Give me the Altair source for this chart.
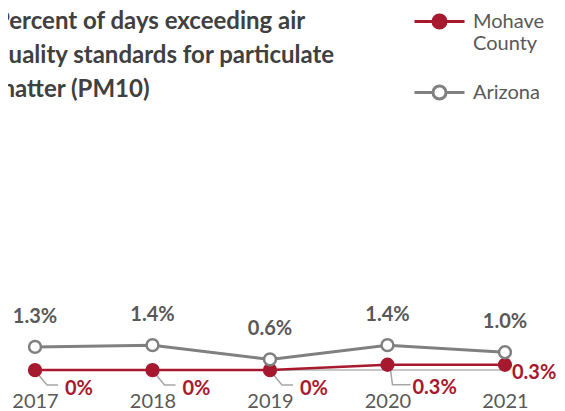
import altair as alt
import pandas as pd

years = [2017, 2018, 2019, 2020, 2021]
mohave = [0.0, 0.0, 0.0, 0.3, 0.3]
arizona = [1.3, 1.4, 0.6, 1.4, 1.0]
mohave_labels = ["0%", "0%", "0%", "0.3%", "0.3%"]
arizona_labels = ["1.3%", "1.4%", "0.6%", "1.4%", "1.0%"]
series = ["Mohave County", "Arizona"]
title_lines = ["Percent of days exceeding air",
               "quality standards  for particulate",
               "matter (PM10)"]

RED = "#A6192E"
GREY = "#808080"
TXT = "#595959"
LC = "#A6A6A6"
FONT = "Lato"

rows = []
for yr, v, lab in zip(years, mohave, mohave_labels):
    rows.append({"year": yr, "series": series[0], "value": v, "label": lab})
for yr, v, lab in zip(years, arizona, arizona_labels):
    rows.append({"year": yr, "series": series[1], "value": v, "label": lab})
df = pd.DataFrame(rows)

x_scale = alt.Scale(domain=[2016.770, 2021.443], nice=False, zero=False)
y_scale = alt.Scale(domain=[-2.30, 20.34], nice=False, zero=False)
x_enc = alt.X("year:Q", scale=x_scale,
              axis=alt.Axis(values=years, format="d", title=None, domain=False,
                            ticks=False, grid=False, labelFont=FONT,
                            labelFontSize=20, labelColor=TXT, labelPadding=2,
                            offset=-22, labelFlush=False))
y_enc = alt.Y("value:Q", scale=y_scale, axis=None)

color_scale = alt.Scale(domain=series, range=[RED, GREY])
fill_scale = alt.Scale(domain=series, range=[RED, "#FFFFFF"])

base = alt.Chart(df)
moh = base.transform_filter(alt.datum.series == series[0])
ari = base.transform_filter(alt.datum.series == series[1])

zero_line = ari.transform_calculate(zero="0").mark_line(
    color="#C8C8C8", strokeWidth=2).encode(
    x=x_enc, y=alt.Y("zero:Q", scale=y_scale, axis=None))
ari_line = ari.mark_line(color=GREY, strokeWidth=3).encode(x=x_enc, y=y_enc)
moh_line = moh.mark_line(color=RED, strokeWidth=2.5).encode(x=x_enc, y=y_enc)

lead_small = moh.transform_filter(alt.datum.year <= 2019)
lead_2020 = moh.transform_filter(alt.datum.year == 2020)
# leader-line callout shapes (unit path, scaled by symbol size)
leader_a = "M0.08,0.12L0.48,0.6L0.92,0.6"
leader_b = "M0.12,0.2L0.2,0.8L0.92,0.8"
lead1 = lead_small.mark_point(shape=leader_a, filled=False, size=2500, color=LC,
                              strokeWidth=1.5, opacity=1).encode(x=x_enc, y=y_enc)
lead2 = lead_2020.mark_point(shape=leader_b, filled=False, size=2500, color=LC,
                             strokeWidth=1.5, opacity=1).encode(x=x_enc, y=y_enc)

sym_path = ("M-1,0L-0.26,0M0.26,0L1,0M-0.26,0A0.26,0.26,0,1,1,0.26,0"
            "A0.26,0.26,0,1,1,-0.26,0Z")
legend = alt.Legend(title=None, orient="none", legendX=405, legendY=-13, padding=0,
                    symbolType=sym_path, symbolSize=2500, symbolStrokeWidth=3,
                    labelFont=FONT, labelFontSize=20, labelColor=TXT,
                    labelOffset=7, labelLimit=300, rowPadding=12,
                    labelExpr="datum.label == 'Mohave County' ? ['Mohave', 'County'] : datum.label")

points = base.mark_point(shape="circle", filled=True, size=140, strokeWidth=2.5,
                         opacity=1).encode(
    x=x_enc, y=y_enc,
    fill=alt.Fill("series:N", scale=fill_scale, legend=legend),
    stroke=alt.Stroke("series:N", scale=color_scale, legend=legend),
)

ari_text = ari.mark_text(font=FONT, fontSize=20, fontWeight="bold", color=TXT,
                         align="center", baseline="middle", dy=-30).encode(
    x=x_enc, y=y_enc, text="label:N")
moh_text1 = lead_small.mark_text(font=FONT, fontSize=20, fontWeight="bold", color=RED,
                                 align="left", baseline="middle", dx=30, dy=19).encode(
    x=x_enc, y=y_enc, text="label:N")
moh_text2 = lead_2020.mark_text(font=FONT, fontSize=20, fontWeight="bold", color=RED,
                                align="left", baseline="middle", dx=25, dy=23).encode(
    x=x_enc, y=y_enc, text="label:N")
moh_text3 = moh.transform_filter(alt.datum.year == 2021).mark_text(
    font=FONT, fontSize=20, fontWeight="bold", color=RED,
    align="left", baseline="middle", dx=7, dy=8).encode(
    x=x_enc, y=y_enc, text="label:N")

chart = alt.layer(
    zero_line, ari_line, moh_line, lead1, lead2, points,
    ari_text, moh_text1, moh_text2, moh_text3
).properties(
    width=549, height=403, padding=0,
    autosize=alt.AutoSizeParams(type="none"),
    title=alt.TitleParams(text=title_lines, anchor="start", frame="group",
                          orient="top", baseline="top", dx=-13, dy=107, offset=0,
                          fontSize=24, lineHeight=34, font=FONT,
                          fontWeight="bold", color="#404040"),
    background="white",
).configure_view(stroke=None)

chart.save("out.html", embed_options={"renderer": "svg", "actions": False})
